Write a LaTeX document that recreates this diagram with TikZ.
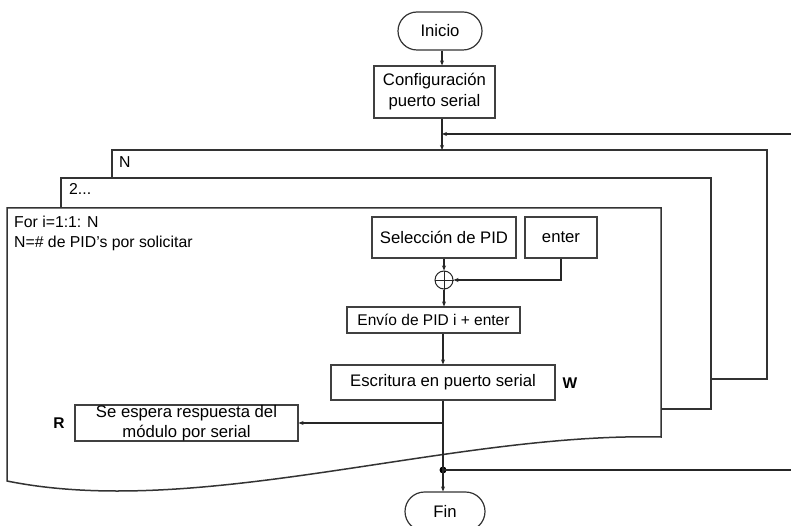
\documentclass[tikz,border=0pt]{standalone}
\usepackage{fontspec}
\setmainfont{Liberation Sans}
\usetikzlibrary{shapes.misc,arrows.meta}
\begin{document}
\begin{tikzpicture}[x=1pt,y=-1pt,
  every node/.style={font=\fontsize{16.7}{21}\selectfont, inner sep=0pt},
  box/.style={draw=black!75, line width=1.2pt, fill=white, align=center},
  term/.style={rounded rectangle, draw=black!80, line width=1.2pt, fill=white},
  frame/.style={draw=black!80, line width=1.5pt, fill=white},
  framelbl/.style={anchor=west, font=\fontsize{15.8}{21}\selectfont},
  flow/.style={draw=black!85, line width=1.1pt},
  arr/.style={flow, -{Stealth[length=5pt,width=4pt]}},
  tag/.style={font=\fontsize{15.5}{21}\selectfont\bfseries},
]
\useasboundingbox[fill=white] (0,0) rectangle (791,526);

% stacked loop frames, back to front
\path[frame] (112,150) rectangle (767,379);
\path[frame] (61,178) rectangle (711,409);
\path[frame] (7,208) -- (661,208) -- (661,437)
  .. controls (450,432) and (200,520) .. (7,481) -- cycle;

\node[framelbl] (lblN) at (119,162) {N};
\node[framelbl] (lbl2) at (69,189) {2...};
\node[framelbl] (lblfor) at (14,222) {For i=1:1: N};
\node[framelbl] (lblpid) at (14,243) {N=\# de PID’s por solicitar};

% flow nodes
\node[term, minimum width=84pt, minimum height=38pt] (inicio) at (440,31) {Inicio};
\node[box, minimum width=121pt, minimum height=52pt] (config) at (434.5,92)
  {Configuración\\puerto serial};
\node[box, minimum width=144pt, minimum height=41pt] (sel) at (444,237.5) {Selección de PID};
\node[box, minimum width=72pt, minimum height=41pt] (enter) at (561,237.5) {enter};
\node[circle, draw=black!85, line width=1pt, minimum size=18pt, fill=white] (sum) at (444,280) {};
\draw[black!85, line width=1pt] (sum.north) -- (sum.south) (sum.west) -- (sum.east);
\node[box, minimum width=173pt, minimum height=26pt, font=\fontsize{15.5}{18}\selectfont] (envio) at (433.5,320)
  {Envío de PID i + enter};
\node[box, minimum width=224pt, minimum height=35pt] (escr) at (443,382.5) {Escritura en puerto serial};
\node[tag] (wlbl) at (570,383) {W};
\node[box, minimum width=223pt, minimum height=36pt, font=\fontsize{16.7}{20}\selectfont] (resp) at (186.5,423)
  {Se espera respuesta del\\módulo por serial};
\node[tag] (rlbl) at (59,423) {R};
\node[circle, fill=black, minimum size=7pt] (dot) at (443,470) {};
\node[term, minimum width=80pt, minimum height=39pt] (fin) at (445,511.5) {Fin};

% connectors
\coordinate (spine) at (442,0);
\coordinate (ftop) at (442,150);
\coordinate (fbR) at (791,134);
\coordinate (fbJ) at (442,134);
\coordinate (brk) at (443,423);
\coordinate (outR) at (791,470);

\draw[arr] (inicio.south -| spine) -- (config.north -| spine);
\draw[arr] (config.south -| spine) -- (ftop);
\draw[arr] (fbR) -- (fbJ);
\draw[arr] (sel.south) -- (sum.north);
\draw[arr] (enter.south) |- (sum.east);
\draw[arr] (sum.south) -- (envio.north -| sum.south);
\draw[arr] (envio.south -| escr.north) -- (escr.north);
\draw[flow] (escr.south) -- (dot.center);
\draw[arr] (brk) -- (resp.east);
\draw[arr] (dot.center) -- (fin.north -| dot.center);
\draw[flow] (dot.center) -- (outR);
\end{tikzpicture}
\end{document}
